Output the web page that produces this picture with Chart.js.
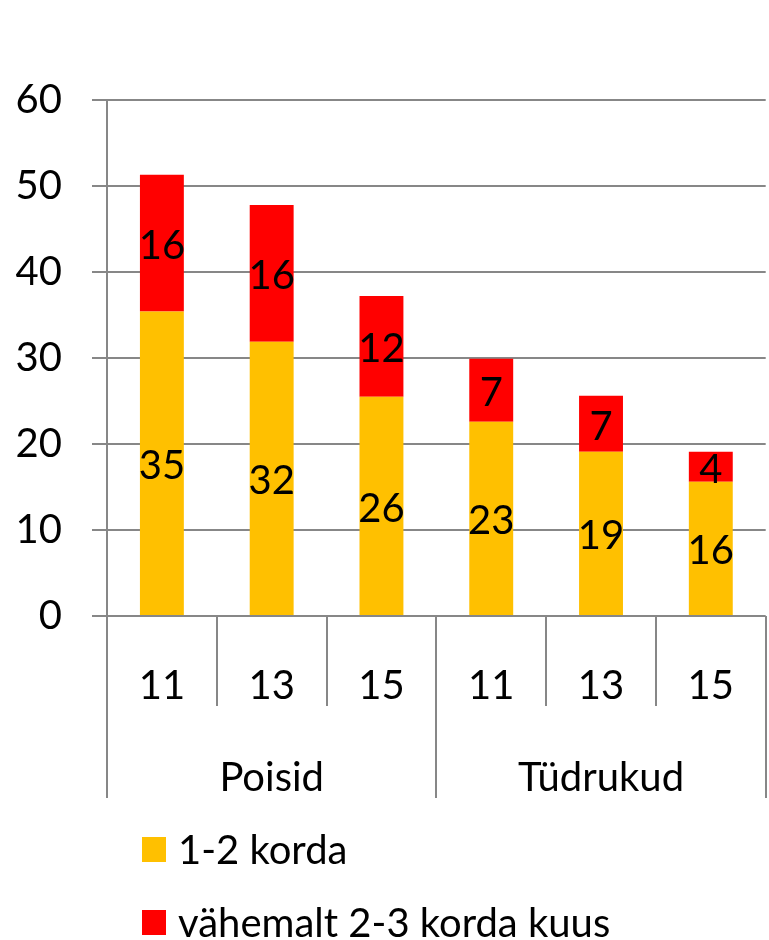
<!DOCTYPE html>
<html>
<head>
<meta charset="utf-8">
<script src="https://cdn.jsdelivr.net/npm/chart.js@4"></script>
<style>
	html, body { margin: 0; padding: 0; background: #fff; overflow: hidden; }
	#wrap { width: 772px; height: 940px; }
</style>
</head>
<body>
<div id="wrap"><canvas id="grafico"></canvas></div>
<script>
var vanused = ['11', '13', '15', '11', '13', '15'];
var grupid = ['Poisid', 'Tüdrukud'];
var korda12 = [35.4, 31.9, 25.5, 22.6, 19.1, 15.6];
var korda23 = [15.9, 15.9, 11.7, 7.3, 6.5, 3.5];
var silt12 = ['35', '32', '26', '23', '19', '16'];
var silt23 = ['16', '16', '12', '7', '7', '4'];
var yTicks = [0, 10, 20, 30, 40, 50, 60];

var FONT = 'Lato, "DejaVu Sans", sans-serif';
var HALL = '#878787';

// numbrid tulpade sees
var tulbaSildid = {
	id: 'tulbaSildid',
	afterDatasetsDraw: function(chart) {
		var ctx = chart.ctx;
		var sildid = [silt12, silt23];
		ctx.save();
		ctx.font = '40px ' + FONT;
		ctx.fillStyle = '#000';
		ctx.textAlign = 'center';
		ctx.textBaseline = 'middle';
		chart.data.datasets.forEach(function(ds, d) {
			chart.getDatasetMeta(d).data.forEach(function(bar, i) {
				ctx.fillText(sildid[d][i], bar.x, (bar.y + bar.base) / 2 + 3);
			});
		});
		ctx.restore();
	}
};

// kategooriate vahejooned x-telje all
var vahejooned = {
	id: 'vahejooned',
	afterDraw: function(chart) {
		var ctx = chart.ctx;
		var x = chart.scales.x;
		var x2 = chart.scales.x2;
		var n = vanused.length;
		var w = (x.right - x.left) / n;
		ctx.save();
		ctx.strokeStyle = HALL;
		ctx.lineWidth = 2;
		for (var i = 0; i <= n; i++) {
			var px = Math.round(x.left + i * w);
			var alla = (i % 3 === 0) ? x2.bottom : x.bottom;
			ctx.beginPath();
			ctx.moveTo(px, x.top);
			ctx.lineTo(px, alla);
			ctx.stroke();
		}
		ctx.restore();
	}
};

// legend kahel real
var legend = {
	id: 'legendRead',
	afterDraw: function(chart) {
		var ctx = chart.ctx;
		ctx.save();
		ctx.font = '40px ' + FONT;
		ctx.textBaseline = 'middle';
		ctx.textAlign = 'left';
		chart.data.datasets.forEach(function(ds, d) {
			var cy = 849 + d * 73;
			ctx.fillStyle = ds.backgroundColor;
			ctx.fillRect(142, cy - 12, 24, 25);
			ctx.fillStyle = '#000';
			ctx.fillText(ds.label, 178, cy + 2);
		});
		ctx.restore();
	}
};

new Chart(document.getElementById('grafico').getContext('2d'), {
	type: 'bar',
	data: {
		labels: vanused,
		datasets: [{
			label: '1-2 korda',
			data: korda12,
			backgroundColor: '#FFC000',
			barPercentage: 0.4,
			categoryPercentage: 1.0
		}, {
			label: 'vähemalt 2-3 korda kuus',
			data: korda23,
			backgroundColor: '#FF0000',
			barPercentage: 0.4,
			categoryPercentage: 1.0
		}]
	},
	options: {
		responsive: true,
		maintainAspectRatio: false,
		animation: false,
		layout: {
			padding: { top: 100, bottom: 142, left: 0, right: 0 }
		},
		plugins: {
			legend: { display: false },
			tooltip: { enabled: false }
		},
		scales: {
			x: {
				stacked: true,
				grid: { display: false },
				border: { display: false },
				ticks: {
					color: '#000',
					font: { family: FONT, size: 40 },
					padding: 38,
					maxRotation: 0
				},
				afterFit: function(scale) { scale.height = 90; }
			},
			x2: {
				type: 'category',
				labels: grupid,
				position: 'bottom',
				offset: true,
				grid: { display: false },
				border: { display: false },
				ticks: {
					color: '#000',
					font: { family: FONT, size: 40 },
					padding: 40,
					maxRotation: 0
				},
				afterFit: function(scale) { scale.height = 92; }
			},
			y: {
				stacked: true,
				min: 0,
				max: 60,
				afterBuildTicks: function(scale) {
					scale.ticks = yTicks.map(function(v) { return { value: v }; });
				},
				grid: {
					color: HALL,
					lineWidth: 2,
					tickLength: 15
				},
				border: { display: true, color: HALL, width: 2 },
				ticks: {
					color: '#000',
					font: { family: FONT, size: 40 },
					padding: 30
				},
				afterFit: function(scale) { scale.width = 107; }
			}
		}
	},
	plugins: [tulbaSildid, vahejooned, legend]
});
</script>
</body>
</html>
